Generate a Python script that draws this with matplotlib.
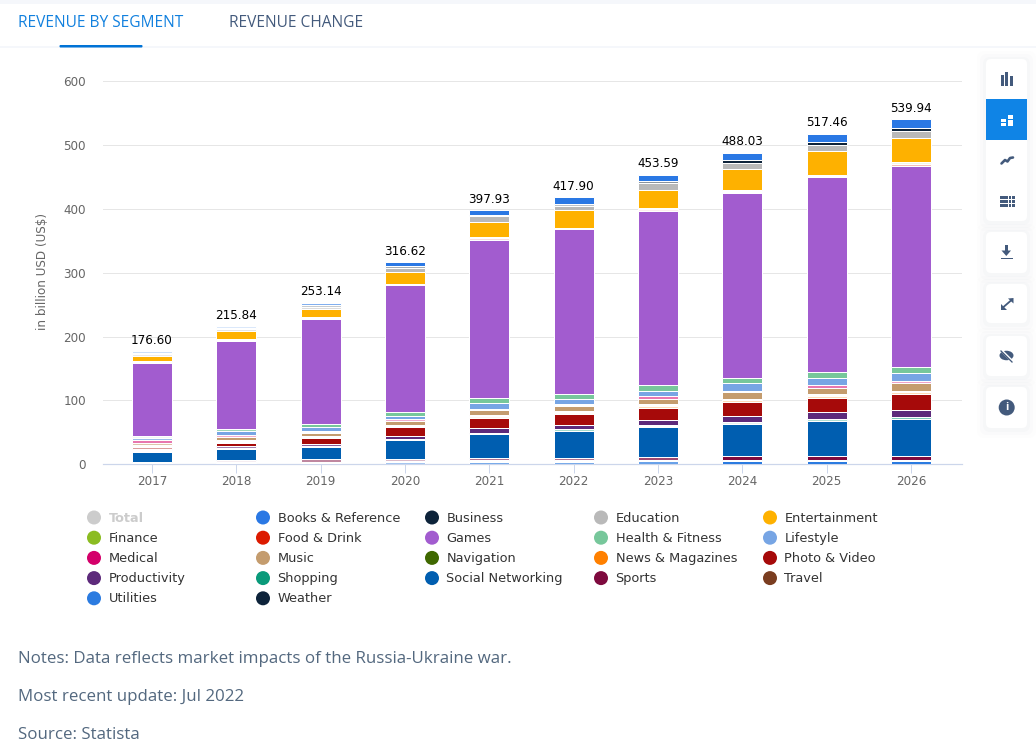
import matplotlib
matplotlib.use('Agg')
import matplotlib.pyplot as plt
from matplotlib.colors import to_rgba
from matplotlib.patches import FancyBboxPatch, Rectangle, Circle, Ellipse
import numpy as np

plt.rcParams['font.family'] = ['Open Sans', 'DejaVu Sans']
CHART_FONT = ['DejaVu Sans']

years = [2017, 2018, 2019, 2020, 2021, 2022, 2023, 2024, 2025, 2026]
total = [176.60, 215.84, 253.14, 316.62, 397.93, 417.90, 453.59, 488.03, 517.46, 539.94]

# Values, in billion USD
books = [2.9, 2.74, 3.74, 5.62, 7.03, 9.9, 10.09, 11.03, 12.46, 12.94]
business = [1.2, 1.2, 2.9, 3.2, 2.9, 3.0, 3.5, 5.2, 5.0, 5.3]
education = [3.0, 3.2, 3.5, 6.3, 9.0, 7.0, 10.0, 9.8, 9.6, 10.7]
entertainment = [8.3, 12.6, 13.0, 18.8, 23.3, 28.0, 29.0, 33.2, 37.1, 38.0]
finance = [0.9, 1.3, 0.8, 0.9, 2.0, 0.8, 1.8, 1.7, 1.6, 2.6]
food = [1.2, 1.8, 1.2, 1.2, 2.7, 1.2, 2.5, 2.1, 2.0, 3.0]
games = [114.8, 137.4, 164.4, 198.7, 247.2, 258.0, 272.6, 290.4, 305.2, 315.4]
health = [2.6, 4.0, 5.2, 6.3, 8.3, 7.2, 9.3, 6.8, 8.9, 9.0]
lifestyle = [4.1, 5.7, 6.8, 5.2, 8.9, 8.9, 8.4, 13.0, 12.0, 12.0]
medical = [3.6, 3.1, 2.0, 3.1, 1.6, 2.1, 3.6, 1.1, 3.6, 3.2]
music = [3.7, 5.2, 5.3, 5.3, 8.3, 8.8, 8.9, 11.7, 10.5, 13.0]
navigation = [1.0, 1.7, 1.6, 1.6, 1.7, 1.6, 2.2, 2.0, 2.2, 2.3]
news = [1.7, 2.0, 2.0, 2.0, 2.5, 2.4, 3.0, 3.0, 3.0, 3.0]
photo = [3.3, 5.2, 8.4, 14.1, 15.6, 17.0, 19.3, 20.9, 22.9, 24.5]
productivity = [2.5, 3.7, 4.1, 5.3, 7.3, 7.2, 8.4, 9.9, 11.0, 10.4]
shopping = [2.0, 1.5, 1.6, 1.4, 1.6, 3.2, 2.0, 2.6, 3.1, 3.6]
social = [15.8, 17.2, 18.8, 29.8, 38.1, 41.7, 47.5, 50.6, 54.3, 58.0]
sports = [1.5, 2.5, 3.5, 3.0, 3.7, 3.7, 4.1, 5.7, 5.7, 5.7]
travel = [1.0, 1.3, 1.5, 1.0, 2.0, 2.0, 3.0, 2.1, 2.1, 2.1]
utilities = [1.2, 2.2, 2.4, 3.3, 3.8, 3.8, 4.0, 4.7, 4.7, 4.7]
weather = [0.3, 0.3, 0.4, 0.5, 0.4, 0.4, 0.4, 0.5, 0.5, 0.5]

names = ['Total', 'Books & Reference', 'Business', 'Education', 'Entertainment',
         'Finance', 'Food & Drink', 'Games', 'Health & Fitness', 'Lifestyle',
         'Medical', 'Music', 'Navigation', 'News & Magazines', 'Photo & Video',
         'Productivity', 'Shopping', 'Social Networking', 'Sports', 'Travel',
         'Utilities', 'Weather']
colors = ['#cccccc', '#2a78e4', '#0d233a', '#b9b9b9', '#feb100',
          '#8bbc21', '#dc1a00', '#a25ccf', '#77c79b', '#77a5e4',
          '#d4006a', '#c49c6e', '#3f6800', '#ff8000', '#a60a0a',
          '#5d2a7b', '#0a9a7a', '#005eb0', '#7e0a3e', '#7a3d20',
          '#2b7be0', '#0d233a']
# Same order as names, Total is only a legend entry and the labels
stack = [books, business, education, entertainment, finance, food, games, health,
         lifestyle, medical, music, navigation, news, photo, productivity, shopping,
         social, sports, travel, utilities, weather]

notes = ['Notes: Data reflects market impacts of the Russia-Ukraine war.',
         'Most recent update: Jul 2022',
         'Source: Statista']

W, H = 1036, 743
PX = 0.72  # one pixel in points at dpi 100
UNIT_PX = 383.3 / 600  # bar height in pixels for one billion
GREY = '#666666'
SLATE = '#435a7c'
NOTE = '#53687f'

fig = plt.figure(figsize=(W / 100, H / 100), dpi=100, facecolor='white')

# Page furniture is drawn in pixel coordinates on a full figure axes
page = fig.add_axes([0, 0, 1, 1], zorder=0)
page.set_xlim(0, W)
page.set_ylim(H, 0)
page.axis('off')

# Chart
ax = fig.add_axes([103 / W, 1 - 464.3 / H, 859 / W, 383.3 / H], zorder=1)
ax.patch.set_alpha(0)
x = np.arange(len(years))
bottom = np.zeros(len(years))
for vals, col in reversed(list(zip(stack, colors[1:]))):
    # The white border swallows very thin segments, so they fade out
    fade = np.clip((np.array(vals) * UNIT_PX - 1.5) / 1.5, 0, 1)
    ax.bar(x, vals, width=0.475, bottom=bottom, color=[to_rgba(col, a) for a in fade],
           edgecolor='white', linewidth=1 * PX, zorder=3)
    bottom += np.array(vals)

for i, t in enumerate(total):
    ax.annotate('%.2f' % t, (x[i], t), xytext=(0, 11 * PX), textcoords='offset points',
                ha='center', va='center', fontsize=12 * PX, color='black', zorder=5,
                family=CHART_FONT)

ax.set_xlim(-0.581, 9.605)
ax.set_ylim(0, 600)
ax.set_xticks(x)
ax.set_xticklabels(years, family=CHART_FONT)
ax.set_yticks(range(0, 601, 100))
ax.set_yticklabels(range(0, 601, 100), family=CHART_FONT)
ax.grid(axis='y', color='#e6e6e6', linewidth=1 * PX, zorder=0)
ax.set_axisbelow(True)
for side in ['top', 'right', 'left']:
    ax.spines[side].set_visible(False)
ax.spines['bottom'].set_color('#ccd6eb')
ax.spines['bottom'].set_linewidth(1.2 * PX)
ax.tick_params(axis='x', length=9 * PX, width=1 * PX, color='#ccd6eb', labelcolor=GREY,
               labelsize=12 * PX, pad=1)
ax.tick_params(axis='y', length=0, labelcolor=GREY, labelsize=12 * PX, pad=17 * PX)
page.text(43, 272, 'in billion USD (US$)', rotation=90, ha='center', va='center',
          fontsize=12 * PX, color=GREY, family=CHART_FONT)

# Legend, filled row by row
for i, (name, col) in enumerate(zip(names, colors)):
    row, column = i // 5, i % 5
    lx = 94 + 169 * column
    ly = 517.5 + 20.2 * row
    page.add_patch(Circle((lx, ly), 7, color=col, lw=0))
    page.text(lx + 14.5, ly + 0.5, name, ha='left', va='center', fontsize=12.9 * PX,
              color='#cccccc' if name == 'Total' else '#333333',
              fontweight='bold' if name == 'Total' else 'normal', family=CHART_FONT)

# Notes
for txt, ny in zip(notes, [659, 697, 735]):
    page.text(18, ny, txt, ha='left', va='center', fontsize=16.9 * PX, color=NOTE)

# Tabs
page.add_patch(Rectangle((0, 0), W, 4, color='#f5f7fb', lw=0))
page.add_patch(Rectangle((0, 46), W, 2, color='#f5f7fb', lw=0))
page.text(18, 23, 'REVENUE BY SEGMENT', ha='left', va='center', fontsize=15.5 * PX,
          color='#1180de')
page.text(229, 23, 'REVENUE CHANGE', ha='left', va='center', fontsize=15.5 * PX,
          color=SLATE)
page.add_patch(FancyBboxPatch((60, 45.5), 82, 1.5, boxstyle='round,pad=0.5,rounding_size=1',
                              color='#0073d6', lw=0, zorder=3))

# Toolbar cards with a soft shadow
cards = [(59, 221), (232, 273), (284, 323), (336, 376), (387, 428)]
for top, bot in cards:
    for grow, alpha in [(9, 0.008), (6, 0.011), (3, 0.015)]:
        page.add_patch(FancyBboxPatch((986 - grow, top - grow + 1), 41 + 2 * grow, bot - top + 2 * grow,
                                      boxstyle='round,pad=0,rounding_size=7', color='#33507a',
                                      alpha=alpha, lw=0))
    page.add_patch(FancyBboxPatch((986, top), 41, bot - top, boxstyle='round,pad=0,rounding_size=5',
                                  color='white', lw=0, zorder=2))
page.add_patch(Rectangle((986, 99), 41, 41, color='#0f84e6', lw=0, zorder=3))

# Toolbar icons
for bx, by, bh in [(1001, 75, 11), (1005, 72, 14), (1010, 76, 10)]:
    page.add_patch(Rectangle((bx, by), 3.4, bh, color=SLATE, lw=0, zorder=4))
for bx, by, bw, bh in [(1001, 119, 4.5, 2.8), (1001, 123, 4.5, 2.8),
                       (1008, 115, 5, 4), (1008, 120, 5, 6)]:
    page.add_patch(Rectangle((bx, by), bw, bh, color='white', lw=0, zorder=4))
page.plot([1001.5, 1005, 1007.5, 1010, 1013], [163.5, 160, 161.5, 158, 157.5], color=SLATE,
          lw=2.6 * PX, solid_capstyle='round', zorder=4)
for gx in [1000, 1008.5, 1012]:
    for gy in [195.5, 199.5, 203.5]:
        page.add_patch(Rectangle((gx, gy), 7.5 if gx == 1000 else 2.7, 3, color=SLATE, lw=0, zorder=4))
page.add_patch(Rectangle((1004.7, 245), 3.2, 6, color=SLATE, lw=0, zorder=4))
page.fill([1001.5, 1011, 1006.3], [250.5, 250.5, 256], color=SLATE, lw=0, zorder=4)
page.add_patch(Rectangle((1000.5, 257.5), 12, 1.8, color=SLATE, lw=0, zorder=4))
page.fill([1008, 1013.5, 1013.5], [298.5, 298, 303.5], color=SLATE, lw=0, zorder=4)
page.fill([1001, 1001, 1006.5], [304, 309.5, 309.5], color=SLATE, lw=0, zorder=4)
page.plot([1003.5, 1011], [307, 300.5], color=SLATE, lw=1.8 * PX, zorder=4)
page.add_patch(Ellipse((1006.5, 355.5), 14, 9.5, color=SLATE, lw=0, zorder=4))
page.plot([1001, 1012], [350, 361], color='white', lw=2.6 * PX, zorder=4)
page.plot([1001, 1012], [351, 362], color=SLATE, lw=1.3 * PX, zorder=4)
page.add_patch(Circle((1006.7, 407.5), 8, color=SLATE, lw=0, zorder=4))
page.text(1006.7, 407.5, 'i', ha='center', va='center', fontsize=11 * PX, color='white',
          fontweight='bold', zorder=5)

fig.savefig('out.png', dpi=100)
